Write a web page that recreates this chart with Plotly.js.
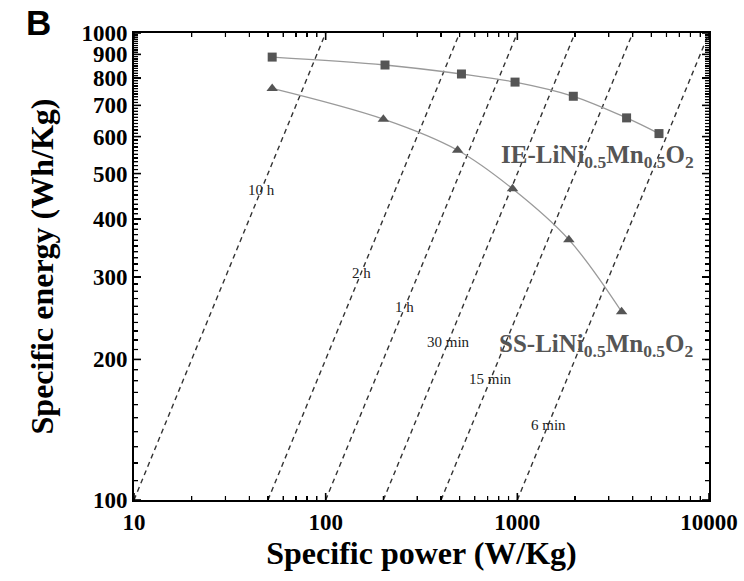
<!DOCTYPE html>
<html>
<head>
<meta charset="utf-8">
<script src="https://cdn.plot.ly/plotly-3.0.1.min.js"></script>
<style>
html,body{margin:0;padding:0;background:#fff;}
#wrap{position:relative;width:744px;height:581px;}
#chart{width:744px;height:581px;}
#tickOverlay{position:absolute;left:0;top:0;width:744px;height:581px;pointer-events:none;z-index:10;}
</style>
</head>
<body>
<div id="wrap">
<div id="chart"></div>
<svg id="tickOverlay" xmlns="http://www.w3.org/2000/svg" width="744" height="581"></svg>
</div>
<script>
// IE-LiNi0.5Mn0.5O2 (squares)
const iePower  = [52.6, 204, 511, 973, 1959, 3715, 5483];
const ieEnergy = [888, 854, 817, 785, 732, 658, 609];
// SS-LiNi0.5Mn0.5O2 (triangles)
const ssPower  = [52.6, 200, 488, 944, 1857, 3500];
const ssEnergy = [761, 654, 561, 464, 361, 253];
// constant discharge-time guide lines (E = P * t)
const rateHours  = [10, 2, 1, 0.5, 0.25, 0.1];
const rateLabels = ['10 h', '2 h', '1 h', '30 min', '15 min', '6 min'];
const rateLabelEnergy = [461, 306, 259, 218, 182, 145];
const energyBounds = [100, 1000];
// tick labels
const xTickVals = [10, 100, 1000, 10000];
const yTickVals = [100, 200, 300, 400, 500, 600, 700, 800, 900, 1000];

const serif = 'Liberation Serif, Times New Roman, serif';
const xRange = [1, 4], yRange = [2, 3];

const traces = [];
rateHours.forEach((t) => {
  traces.push({
    x: energyBounds.map(e => e / t), y: energyBounds,
    mode: 'lines', type: 'scatter', hoverinfo: 'skip', showlegend: false,
    line: {color: '#333', width: 1.4, dash: '5px,4px'}
  });
});
traces.push({
  x: iePower, y: ieEnergy, mode: 'lines+markers', type: 'scatter', showlegend: false,
  line: {color: '#9a9a9a', width: 1.3, shape: 'spline'},
  marker: {symbol: 'square', size: 9, color: '#555'}
});
traces.push({
  x: ssPower, y: ssEnergy, mode: 'lines+markers', type: 'scatter', showlegend: false,
  line: {color: '#9a9a9a', width: 1.3, shape: 'spline'},
  marker: {symbol: 'triangle-up', size: 10, color: '#555'}
});

// minor tick positions
const xMinor = [], yMinor = [];
[10, 100, 1000].forEach(d => { for (let k = 2; k <= 9; k++) xMinor.push(k * d); });
for (let v = 110; v < 1000; v += 10) if (v % 100 !== 0) yMinor.push(v);

const annotations = rateLabels.map((lab, i) => ({
  x: Math.log10(rateLabelEnergy[i] / rateHours[i]), y: Math.log10(rateLabelEnergy[i]),
  xref: 'x', yref: 'y', text: lab, showarrow: false,
  font: {family: serif, size: 15, color: '#222'}
}));
annotations.push({
  x: 0.806, y: 0.735, xref: 'paper', yref: 'paper', showarrow: false,
  xanchor: 'center', yanchor: 'middle',
  text: '<b>IE-LiNi<sub>0.5</sub>Mn<sub>0.5</sub>O<sub>2</sub></b>',
  font: {family: serif, size: 25, color: '#555'}
});
annotations.push({
  x: 0.803, y: 0.33, xref: 'paper', yref: 'paper', showarrow: false,
  xanchor: 'center', yanchor: 'middle',
  text: '<b>SS-LiNi<sub>0.5</sub>Mn<sub>0.5</sub>O<sub>2</sub></b>',
  font: {family: serif, size: 25, color: '#555'}
});
annotations.push({
  x: -0.192, y: 1.068, xref: 'paper', yref: 'paper', showarrow: false,
  xanchor: 'left', yanchor: 'top',
  text: '<b>B</b>', font: {family: 'Liberation Sans, Arial, sans-serif', size: 35, color: '#000'}
});

const layout = {
  width: 744, height: 581,
  margin: {l: 134, r: 35, t: 33, b: 81},
  xaxis: {
    type: 'log', range: xRange,
    tickmode: 'array', tickvals: xTickVals, ticktext: xTickVals.map(String),
    ticks: 'inside', ticklen: 7, tickwidth: 1.6, tickcolor: '#000',
    minor: {tickmode: 'array', tickvals: xMinor, ticks: 'inside', ticklen: 4, tickwidth: 1.2, tickcolor: '#000'},
    showline: true, linewidth: 2, linecolor: '#000', mirror: 'allticks',
    showgrid: false, zeroline: false,
    tickfont: {family: serif, size: 23, color: '#000', weight: 'bold'},
    title: {text: '<b>Specific power (W/Kg)</b>', font: {family: serif, size: 32, color: '#000'}, standoff: 8}
  },
  yaxis: {
    type: 'log', range: yRange,
    tickmode: 'array', tickvals: yTickVals, ticktext: yTickVals.map(String),
    ticks: 'inside', ticklen: 7, tickwidth: 1.6, tickcolor: '#000',
    minor: {tickmode: 'array', tickvals: yMinor, ticks: 'inside', ticklen: 4, tickwidth: 1.2, tickcolor: '#000'},
    showline: true, linewidth: 2, linecolor: '#000', mirror: 'allticks',
    showgrid: false, zeroline: false,
    tickfont: {family: serif, size: 23, color: '#000', weight: 'bold'},
    title: {text: '<b>Specific energy (Wh/Kg)</b>', font: {family: serif, size: 32, color: '#000'}, standoff: 18}
  },
  annotations: annotations,
  showlegend: false
};

Plotly.newPlot('chart', traces, layout, {displayModeBar: false, staticPlot: true}).then((gd) => {
  // redraw the inside ticks on a top overlay, positioned with Plotly's own axis scales
  const fl = gd._fullLayout, xa = fl.xaxis, ya = fl.yaxis;
  const svg = document.getElementById('tickOverlay');
  const ns = 'http://www.w3.org/2000/svg';
  const x0 = xa._offset, x1 = xa._offset + xa._length;
  const y0 = ya._offset, y1 = ya._offset + ya._length;
  function line(ax1, ay1, ax2, ay2, w) {
    const l = document.createElementNS(ns, 'line');
    l.setAttribute('x1', ax1); l.setAttribute('y1', ay1);
    l.setAttribute('x2', ax2); l.setAttribute('y2', ay2);
    l.setAttribute('stroke', '#000'); l.setAttribute('stroke-width', w);
    svg.appendChild(l);
  }
  function xTicks(vals, len, w) {
    vals.forEach(v => {
      const px = xa._offset + xa.l2p(Math.log10(v));
      line(px, y1, px, y1 - len, w);
      line(px, y0, px, y0 + len, w);
    });
  }
  function yTicks(vals, len, w) {
    vals.forEach(v => {
      const py = ya._offset + ya.l2p(Math.log10(v));
      line(x0, py, x0 + len, py, w);
      line(x1, py, x1 - len, py, w);
    });
  }
  xTicks(xTickVals, 7, 1.6);
  xTicks(xMinor, 4, 1.2);
  yTicks(yTickVals, 7, 1.6);
  yTicks(yMinor, 4, 1.2);
});
</script>
</body>
</html>
